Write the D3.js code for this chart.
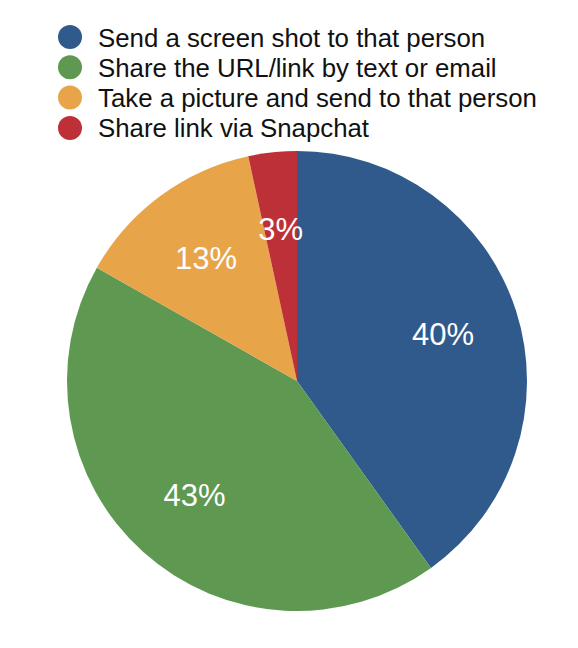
<!DOCTYPE html>
<html>
<head>
<meta charset="utf-8">
<script src="https://cdn.jsdelivr.net/npm/d3@7"></script>
<style>
  html, body { margin: 0; padding: 0; background: #fff; }
  svg { display: block; }
  text { font-family: "Liberation Sans", Arial, Helvetica, sans-serif; }
</style>
</head>
<body>
<svg id="chart" width="578" height="648"></svg>
<script>
const categories = [
  "Send a screen shot to that person",
  "Share the URL/link by text or email",
  "Take a picture and send to that person",
  "Share link via Snapchat"
];
const values = [40.1, 43.1, 13.4, 3.4];
const valueLabels = ["40%", "43%", "13%", "3%"];
const colors = ["#2f5a8b", "#5f9850", "#e8a449", "#be3037"];

const svg = d3.select("#chart");
const cx = 297, cy = 381, radius = 230;

const data = categories.map((c, i) => ({ name: c, value: values[i], label: valueLabels[i], color: colors[i] }));

const pie = d3.pie().value(d => d.value).sort(null);
const arc = d3.arc().innerRadius(0).outerRadius(radius);
const labelArc = d3.arc().innerRadius(radius * 2 / 3).outerRadius(radius * 2 / 3);

const g = svg.append("g").attr("transform", `translate(${cx},${cy})`);
const arcs = pie(data);

g.selectAll("path").data(arcs).join("path")
  .attr("d", arc)
  .attr("fill", d => d.data.color);

g.selectAll("text.lbl").data(arcs).join("text")
  .attr("class", "lbl")
  .attr("transform", d => `translate(${labelArc.centroid(d)})`)
  .attr("text-anchor", "middle")
  .attr("dy", "0.36em")
  .attr("fill", "#fff")
  .attr("font-size", 31)
  .text(d => d.data.label);

// Legend
const legend = svg.append("g").attr("transform", "translate(70,37)");
const rowH = 30.3;
const items = legend.selectAll("g").data(data).join("g")
  .attr("transform", (d, i) => `translate(0,${i * rowH})`);
items.append("circle").attr("r", 12).attr("fill", d => d.color);
items.append("text")
  .attr("x", 28)
  .attr("y", 9.5)
  .attr("font-size", 25.8)
  .attr("fill", "#111")
  .text(d => d.name);
</script>
</body>
</html>
